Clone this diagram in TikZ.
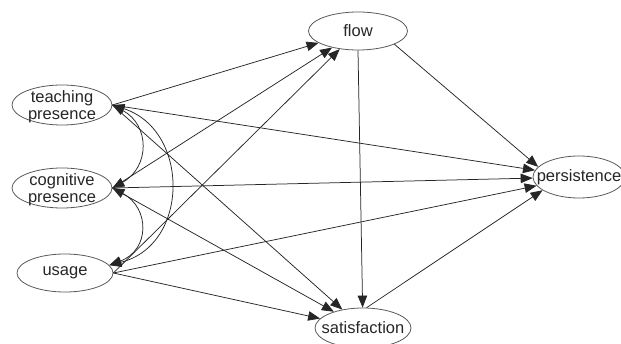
\documentclass[tikz,border=0pt]{standalone}
\usepackage{fontspec}
\setmainfont{Liberation Sans}
\usetikzlibrary{shapes.geometric,arrows.meta}
\begin{document}
\begin{tikzpicture}[x=1pt,y=-1pt,
  oval/.style={ellipse,draw=black!65,line width=0.8pt,inner sep=0pt},
  lbl/.style={inner sep=0pt,align=center,font=\fontsize{16.5}{17}\selectfont,text=black!85},
  path/.style={draw=black!85,line width=0.75pt,-{Triangle[length=12pt,width=9.5pt]}},
  cov/.style={draw=black!85,line width=0.75pt,{Triangle[length=12pt,width=9.5pt]}-{Triangle[length=12pt,width=9.5pt]}}]
  \useasboundingbox (0,0) rectangle (621,344);
  % variables
  \node[oval,minimum width=100pt,minimum height=40pt] (tp) at (62,105) {};
  \node[oval,minimum width=100pt,minimum height=40pt] (cp) at (62,188) {};
  \node[oval,minimum width=96pt,minimum height=38pt] (us) at (65,273) {};
  \node[oval,minimum width=99pt,minimum height=38pt] (fl) at (358,31) {};
  \node[oval,minimum width=96pt,minimum height=40pt] (sa) at (363,328) {};
  \node[oval,minimum width=92pt,minimum height=42pt] (pe) at (579,177) {};
  \node[lbl] (tplbl) at (62,107) {teaching\\presence};
  \node[lbl] (cplbl) at (62,190) {cognitive\\presence};
  \node[lbl] (uslbl) at (us) {usage};
  \node[lbl] (fllbl) at (fl) {flow};
  \node[lbl] (salbl) at (sa) {satisfaction};
  \node[lbl] (pelbl) at (pe) {persistence};
  % regressions
  \foreach \s in {tp,cp,us} {
    \draw[path] (\s.east) -- (fl);
    \draw[path] (\s.east) -- (pe);
    \draw[path] (\s.east) -- (sa);
  }
  \draw[path] (fl.-20) -- (pe.166);
  \draw[path] (fl.south) -- (sa);
  \draw[path] (sa.80) -- (pe.200);
  % covariances
  \draw[cov] (tp.east) .. controls (150,125) and (150,167) .. (cp.east);
  \draw[cov] (cp.east) .. controls (150,208) and (150,250) .. (us.10);
  \draw[cov] (tp.east) .. controls (190,130) and (190,245) .. (us.10);
\end{tikzpicture}
\end{document}
